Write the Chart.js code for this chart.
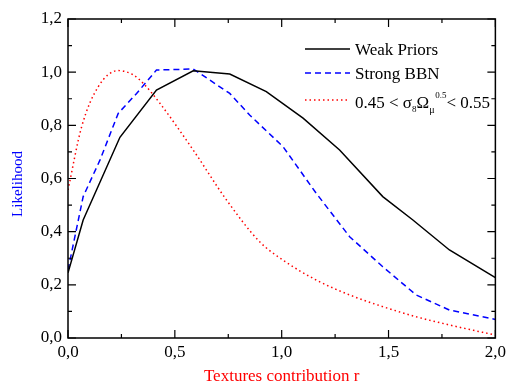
<!DOCTYPE html>
<html>
<head>
<meta charset="utf-8">
<script src="https://cdn.jsdelivr.net/npm/chart.js@4/dist/chart.umd.min.js"></script>
<style>
    html, body { margin: 0; padding: 0; background: #fff; }
    #wrap { width: 510px; height: 387px; }
</style>
</head>
<body>
<div id="wrap"><canvas id="chart" width="510" height="387"></canvas></div>
<script>
const weakX = [0, 0.071, 0.243, 0.414, 0.586, 0.757, 0.928, 1.10, 1.271, 1.473, 1.614, 1.785, 2.0]
const weakY = [0.245, 0.444, 0.755, 0.933, 1.005, 0.993, 0.927, 0.827, 0.707, 0.532, 0.444, 0.331, 0.227]

const bbnX = [0, 0.071, 0.15, 0.235, 0.321, 0.414, 0.586, 0.757, 0.85, 1.006, 1.162, 1.318, 1.473, 1.629, 1.785, 2.0]
const bbnY = [0.256, 0.532, 0.67, 0.845, 0.92, 1.008, 1.012, 0.92, 0.839, 0.72, 0.544, 0.381, 0.268, 0.162, 0.105, 0.07]

const sigmaX = [0, 0.064, 0.142, 0.235, 0.305, 0.352, 0.43, 0.586, 0.742, 0.897, 1.006, 1.162, 1.318, 1.473, 1.629, 1.785, 2.0]
const sigmaY = [0.557, 0.795, 0.946, 1.006, 0.99, 0.958, 0.883, 0.707, 0.519, 0.362, 0.293, 0.218, 0.162, 0.118, 0.08, 0.049, 0.011]

const xTicks = [0, 0.5, 1.0, 1.5, 2.0]
const yTicks = [0, 0.2, 0.4, 0.6, 0.8, 1.0, 1.2]

const FONT = '"Liberation Serif", "Times New Roman", serif'
const ctx = document.getElementById('chart')

const toPoints = (xs, ys) => xs.map((x, i) => ({ x: x, y: ys[i] }))
const comma = v => v.toFixed(1).replace('.', ',')

// frame, inward ticks on all four sides, y title and the legend
const framePlugin = {
    id: 'frame',
    afterDraw: chart => {
        const c = chart.ctx
        const a = chart.chartArea
        const sx = chart.scales.x
        const sy = chart.scales.y

        c.save()
        c.strokeStyle = '#000'
        c.lineWidth = 1.5
        c.strokeRect(a.left, a.top, a.right - a.left, a.bottom - a.top)

        c.lineWidth = 1.2
        c.beginPath()
        for (let v = 0; v <= 2.0001; v += 0.25) {
            const px = sx.getPixelForValue(v)
            const len = Math.abs(v * 2 - Math.round(v * 2)) < 0.01 ? 8 : 4
            c.moveTo(px, a.bottom); c.lineTo(px, a.bottom - len)
            c.moveTo(px, a.top); c.lineTo(px, a.top + len)
        }
        for (let v = 0; v <= 1.2001; v += 0.1) {
            const py = sy.getPixelForValue(v)
            const len = Math.round(v * 10) % 2 == 0 ? 8 : 4
            c.moveTo(a.left, py); c.lineTo(a.left + len, py)
            c.moveTo(a.right, py); c.lineTo(a.right - len, py)
        }
        c.stroke()

        // y axis title, sits a little below the middle as in the original
        c.save()
        c.translate(18, 184)
        c.rotate(-Math.PI / 2)
        c.fillStyle = '#0000ff'
        c.font = `15px ${FONT}`
        c.textAlign = 'center'
        c.textBaseline = 'middle'
        c.fillText('Likelihood', 0, 0)
        c.restore()

        // legend
        const lx0 = a.left + 237
        const lx1 = a.left + 282
        const tx = a.left + 287
        const rows = [a.top + 30, a.top + 54, a.top + 81]
        const ds = chart.data.datasets

        rows.forEach((ry, i) => {
            c.strokeStyle = ds[i].borderColor
            c.lineWidth = ds[i].borderWidth
            c.setLineDash(ds[i].borderDash || [])
            c.beginPath()
            c.moveTo(lx0, ry); c.lineTo(lx1, ry)
            c.stroke()
        })
        c.setLineDash([])
        c.fillStyle = '#000'
        c.textBaseline = 'alphabetic'
        c.textAlign = 'left'
        c.font = `17px ${FONT}`
        c.fillText('Weak Priors', tx, rows[0] + 6)
        c.fillText('Strong BBN', tx, rows[1] + 6)

        let x = tx
        const base = rows[2] + 8
        const put = (t, size, dy) => {
            c.font = `${size}px ${FONT}`
            c.fillText(t, x, base + dy)
            x += c.measureText(t).width
        }
        put('0.45 < \u03c3', 17, 0)
        put('8', 9, 4)
        put('\u03a9', 17, 0)
        const xs = x
        put('\u03bc', 10, 5)
        x = xs + 6
        put('0.5', 9, -10)
        put('< 0.55', 17, 0)
        c.restore()
    }
}

new Chart(ctx, {
    type: 'line',
    data: {
        datasets: [{
            label: 'Weak Priors',
            data: toPoints(weakX, weakY),
            borderColor: '#000000',
            borderWidth: 1.5,
            tension: 0
        }, {
            label: 'Strong BBN',
            data: toPoints(bbnX, bbnY),
            borderColor: '#0000ff',
            borderWidth: 1.5,
            borderDash: [6, 4],
            tension: 0
        }, {
            label: '0.45 < \u03c3\u2088\u03a9\u03bc^0.5 < 0.55',
            data: toPoints(sigmaX, sigmaY),
            borderColor: '#ff0000',
            borderWidth: 1.5,
            borderDash: [1.5, 3],
            cubicInterpolationMode: 'monotone'
        }]
    },
    options: {
        responsive: false,
        animation: false,
        elements: { point: { radius: 0 } },
        layout: { padding: { left: 0, right: 14, top: 19, bottom: 0 } },
        plugins: {
            legend: { display: false },
            tooltip: { enabled: false }
        },
        scales: {
            x: {
                type: 'linear',
                min: 0,
                max: 2,
                afterBuildTicks: scale => { scale.ticks = xTicks.map(v => ({ value: v })) },
                afterFit: scale => { scale.height = 49 },
                grid: { display: false, drawTicks: false },
                border: { display: false },
                ticks: {
                    color: '#000',
                    padding: 4,
                    maxRotation: 0,
                    font: { family: FONT, size: 17 },
                    callback: v => comma(v)
                },
                title: {
                    display: true,
                    text: 'Textures contribution r',
                    color: '#ff0000',
                    font: { family: FONT, size: 17 },
                    padding: { top: 0, bottom: 0 }
                }
            },
            y: {
                type: 'linear',
                min: 0,
                max: 1.2,
                afterBuildTicks: scale => { scale.ticks = yTicks.map(v => ({ value: v })) },
                afterFit: scale => { scale.width = 68 },
                grid: { display: false, drawTicks: false },
                border: { display: false },
                ticks: {
                    color: '#000',
                    padding: 6,
                    font: { family: FONT, size: 17 },
                    callback: v => comma(v)
                }
            }
        }
    },
    plugins: [framePlugin]
})
</script>
</body>
</html>
